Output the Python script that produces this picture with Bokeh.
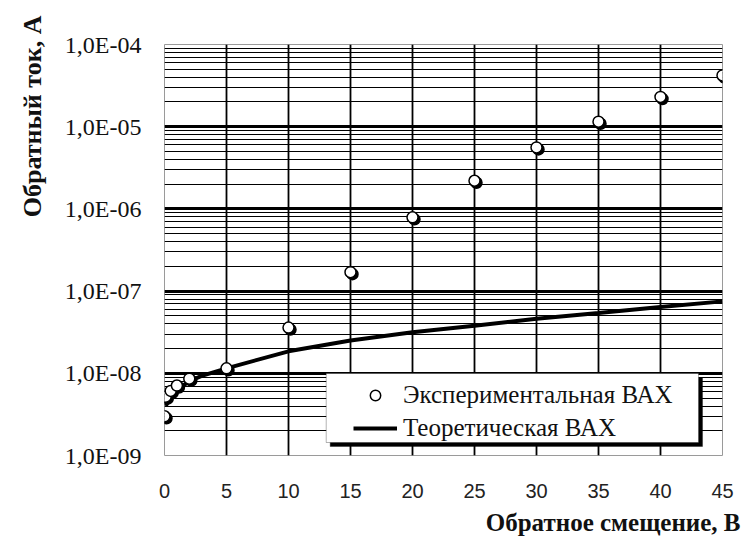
import math
from bokeh.plotting import figure
from bokeh.models import (Range1d, FixedTicker, Legend, LegendItem, Title,
                          BoxAnnotation, CustomJSTickFormatter)
from bokeh.embed import file_html
from bokeh.resources import INLINE

# ---- data ----
x_exp = [0, 0.1, 0.5, 1, 2, 5, 10, 15, 20, 25, 30, 35, 40, 45]
y_exp = [3.0e-9, 5.2e-9, 6.1e-9, 7.1e-9, 8.6e-9, 1.15e-8, 3.6e-8, 1.7e-7,
         7.9e-7, 2.2e-6, 5.6e-6, 1.15e-5, 2.3e-5, 4.2e-5]

x_th = [0.1, 0.5, 1, 2, 3, 5, 10, 15, 20, 25, 30, 35, 40, 45]
y_th = [4.0e-9, 5.2e-9, 6.3e-9, 8.0e-9, 9.3e-9, 1.15e-8, 1.85e-8, 2.5e-8,
        3.15e-8, 3.8e-8, 4.6e-8, 5.4e-8, 6.4e-8, 7.5e-8]

x_ticks = [0, 5, 10, 15, 20, 25, 30, 35, 40, 45]
y_ticks = [1e-9, 1e-8, 1e-7, 1e-6, 1e-5, 1e-4]
y_tick_labels = ["1,0E-09", "1,0E-08", "1,0E-07", "1,0E-06", "1,0E-05", "1,0E-04"]

series_names = ["Экспериментальная ВАХ", "Теоретическая ВАХ"]
x_title = "Обратное смещение, В"
y_title = "Обратный ток, А"

SERIF = "serif"
SANS = "sans-serif"
TITLE_FONT = "'Liberation Serif'"

# ---- layout ----
W, H = 742, 551
ML, MR, MT, MB = 163, 20, 44, 96
FW, FH = W - ML - MR, H - MT - MB
X0, X1 = 0, 45
Y0, Y1 = 1e-9, 1e-4

p = figure(width=W, height=H, y_axis_type="log",
           x_range=Range1d(X0, X1), y_range=Range1d(Y0, Y1),
           output_backend="svg", toolbar_location=None,
           min_border_left=ML, min_border_right=MR,
           min_border_top=MT, min_border_bottom=MB)
p.background_fill_color = "white"
p.border_fill_color = "white"
p.outline_line_color = "#9a9a9a"
p.outline_line_width = 1

minor = [m * 10.0 ** e for e in range(-9, -4) for m in range(2, 10)]
p.yaxis.ticker = FixedTicker(ticks=y_ticks, minor_ticks=minor)
p.ygrid.ticker = FixedTicker(ticks=y_ticks, minor_ticks=minor)
p.xaxis.ticker = FixedTicker(ticks=x_ticks)
p.xgrid.ticker = FixedTicker(ticks=x_ticks[:-1])

p.yaxis.formatter = CustomJSTickFormatter(
    args=dict(tk=y_ticks, lb=y_tick_labels),
    code="""
    let best = 0, bd = 1e9;
    for (let i = 0; i < tk.length; i++) {
        const d = Math.abs(Math.log10(tk[i]) - Math.log10(tick));
        if (d < bd) { bd = d; best = i; }
    }
    return lb[best];
    """)

p.ygrid.grid_line_color = "black"
p.ygrid.grid_line_width = 3
p.ygrid.minor_grid_line_color = "black"
p.ygrid.minor_grid_line_width = 1.2
p.xgrid.grid_line_color = "black"
p.xgrid.grid_line_width = 1.8

for ax in (p.xaxis[0], p.yaxis[0]):
    ax.axis_line_color = None
    ax.major_tick_line_color = None
    ax.minor_tick_line_color = None
    ax.major_tick_out = 0
    ax.minor_tick_out = 0

p.yaxis.major_label_text_font = SERIF
p.yaxis.major_label_text_font_size = "24px"
p.yaxis.major_label_text_color = "#111111"
p.yaxis.major_label_standoff = 23

p.xaxis.major_label_text_font = SANS
p.xaxis.major_label_text_font_size = "20px"
p.xaxis.major_label_text_color = "#222222"
p.xaxis.major_label_standoff = 28

# ---- glyphs ----
th = p.line(x_th, y_th, line_color="black", line_width=4)

dx = (X1 - X0) * 2.0 / FW
fy = 10 ** (math.log10(Y1 / Y0) * 2.0 / FH)
xs = [v + dx for v in x_exp]
ys = [v / fy for v in y_exp]
p.scatter(xs, ys, size=11, fill_color="black", line_color="black", line_width=1.5)
ex = p.scatter(x_exp, y_exp, size=11, fill_color="white", line_color="black",
               line_width=1.5)

# ---- legend box (white box with dark shadow) ----
def fx(px):
    return X0 + (X1 - X0) * px / FW

def fyv(py):
    return 10 ** (math.log10(Y1) - math.log10(Y1 / Y0) * py / FH)

bl, br, bt, bb = 162, 535, 329, 398
sh = 4
p.add_layout(BoxAnnotation(left=fx(bl + sh), right=fx(br + sh), top=fyv(bt + sh),
                           bottom=fyv(bb + sh), fill_color="black", fill_alpha=1,
                           line_color="black", line_width=1))
p.add_layout(BoxAnnotation(left=fx(bl), right=fx(br), top=fyv(bt), bottom=fyv(bb),
                           fill_color="white", fill_alpha=1,
                           line_color="black", line_width=1))

legend = Legend(items=[LegendItem(label=series_names[0], renderers=[ex]),
                       LegendItem(label=series_names[1], renderers=[th])],
                location=(189, 13), padding=6, spacing=5, margin=0,
                glyph_width=44, glyph_height=26, label_height=26,
                label_standoff=6, border_line_color=None,
                background_fill_alpha=0,
                label_text_font=SERIF, label_text_font_size="25px",
                label_text_color="#111111")
p.add_layout(legend, "center")

# ---- axis titles ----
p.add_layout(Title(text=x_title, align="right", offset=-18, standoff=12,
                   vertical_align="bottom",
                   text_font=TITLE_FONT, text_font_style="bold",
                   text_font_size="25px", text_color="#111111"), "below")
p.add_layout(Title(text=y_title, align="right", offset=-29, standoff=30,
                   vertical_align="bottom",
                   text_font=TITLE_FONT, text_font_style="bold",
                   text_font_size="26px", text_color="#111111"), "left")

open("out.html", "w").write(file_html(p, INLINE))
